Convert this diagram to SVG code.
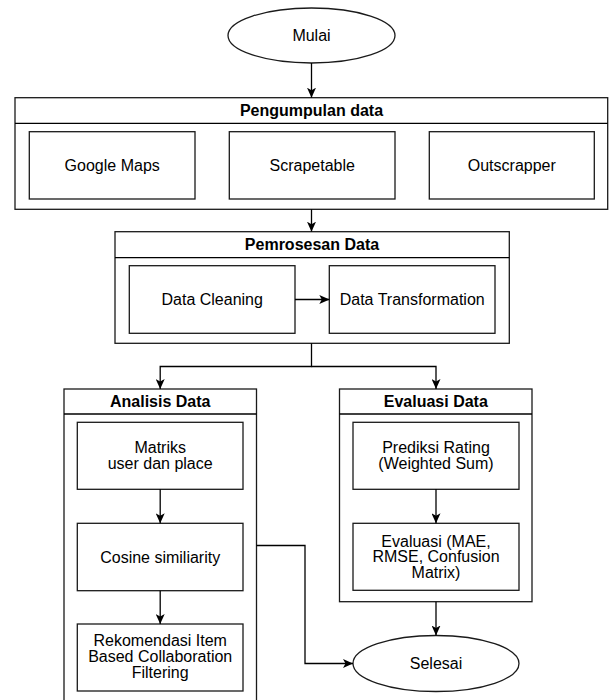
<svg xmlns="http://www.w3.org/2000/svg" width="612" height="700" viewBox="0 0 612 700">
<style>
  .box { fill: #ffffff; stroke: #1a1a1a; stroke-width: 1.3; }
  .ln { fill: none; stroke: #000000; stroke-width: 1.3; }
  .t { font-family: "Liberation Sans", Arial, Helvetica, sans-serif; font-size: 16px; fill: #000000; text-anchor: middle; }
  .h { font-family: "Liberation Sans", Arial, Helvetica, sans-serif; font-size: 16px; font-weight: bold; fill: #000000; text-anchor: middle; }
</style>
<defs>
  <marker id="arr" markerUnits="userSpaceOnUse" markerWidth="10" markerHeight="9" refX="10" refY="4.5" orient="auto">
    <path d="M0,0 L10,4.5 L0,9 L2.5,4.5 z" fill="#000000"/>
  </marker>
</defs>
<rect x="0" y="0" width="612" height="700" fill="#ffffff"/>

<g id="mulai">
  <ellipse class="box" cx="311.5" cy="35.5" rx="83.5" ry="27.5"/>
  <text class="t" x="311.5" y="41">Mulai</text>
</g>

<g id="pengumpulan">
  <rect class="box" x="15" y="97.7" width="592.7" height="111.6"/>
  <line class="ln" x1="15" y1="123.3" x2="607.7" y2="123.3"/>
  <text class="h" x="311.5" y="116">Pengumpulan data</text>
</g>
<g id="google-maps">
  <rect class="box" x="29.3" y="131.7" width="165.7" height="67.3"/>
  <text class="t" x="112.2" y="171">Google Maps</text>
</g>
<g id="scrapetable">
  <rect class="box" x="229.3" y="131.7" width="165.7" height="67.3"/>
  <text class="t" x="312.2" y="171">Scrapetable</text>
</g>
<g id="outscrapper">
  <rect class="box" x="429.3" y="131.7" width="165" height="67.3"/>
  <text class="t" x="511.8" y="171">Outscrapper</text>
</g>

<g id="pemrosesan">
  <rect class="box" x="115" y="231.7" width="394.3" height="111.6"/>
  <line class="ln" x1="115" y1="257.7" x2="509.3" y2="257.7"/>
  <text class="h" x="312" y="250">Pemrosesan Data</text>
</g>
<g id="data-cleaning">
  <rect class="box" x="129.3" y="265.7" width="165.7" height="67.6"/>
  <text class="t" x="212.2" y="305">Data Cleaning</text>
</g>
<g id="data-transformation">
  <rect class="box" x="329.3" y="265.7" width="165.7" height="67.6"/>
  <text class="t" x="412.2" y="305">Data Transformation</text>
</g>

<g id="analisis">
  <rect class="box" x="64" y="389" width="192.5" height="330"/>
  <line class="ln" x1="64" y1="414" x2="256.5" y2="414"/>
  <text class="h" x="160.2" y="407">Analisis Data</text>
</g>
<g id="matriks">
  <rect class="box" x="77.3" y="422.3" width="165.7" height="67"/>
  <text class="t" x="160.2" y="452.5">Matriks</text>
  <text class="t" x="160.2" y="469">user dan place</text>
</g>
<g id="cosine">
  <rect class="box" x="77.3" y="523.3" width="165.7" height="67.4"/>
  <text class="t" x="160.2" y="562.5">Cosine similiarity</text>
</g>
<g id="rekomendasi">
  <rect class="box" x="77.3" y="624" width="165.7" height="67"/>
  <text class="t" x="160.2" y="645.5">Rekomendasi Item</text>
  <text class="t" x="160.2" y="661.5">Based Collaboration</text>
  <text class="t" x="160.2" y="677.5">Filtering</text>
</g>

<g id="evaluasi">
  <rect class="box" x="339.5" y="389" width="192.5" height="212.7"/>
  <line class="ln" x1="339.5" y1="414" x2="532" y2="414"/>
  <text class="h" x="435.8" y="407">Evaluasi Data</text>
</g>
<g id="prediksi">
  <rect class="box" x="353" y="422.3" width="166" height="67"/>
  <text class="t" x="436" y="452.5">Prediksi Rating</text>
  <text class="t" x="436" y="469">(Weighted Sum)</text>
</g>
<g id="evaluasi-mae">
  <rect class="box" x="353" y="523.3" width="166" height="67"/>
  <text class="t" x="436" y="546.5">Evaluasi (MAE,</text>
  <text class="t" x="436" y="562">RMSE, Confusion</text>
  <text class="t" x="436" y="577.5">Matrix)</text>
</g>

<g id="selesai">
  <ellipse class="box" cx="436" cy="663.5" rx="83" ry="28"/>
  <text class="t" x="436" y="669">Selesai</text>
</g>

<g id="connectors">
  <line class="ln" x1="311.5" y1="63" x2="311.5" y2="97.7" marker-end="url(#arr)"/>
  <line class="ln" x1="311.5" y1="209.3" x2="311.5" y2="231.7" marker-end="url(#arr)"/>
  <line class="ln" x1="295" y1="299.5" x2="329.3" y2="299.5" marker-end="url(#arr)"/>
  <polyline class="ln" points="311.5,343.3 311.5,366.5 160.2,366.5 160.2,389" marker-end="url(#arr)"/>
  <polyline class="ln" points="311.5,366.5 436,366.5 436,389" marker-end="url(#arr)"/>
  <line class="ln" x1="160.2" y1="489.3" x2="160.2" y2="523.3" marker-end="url(#arr)"/>
  <line class="ln" x1="160.2" y1="590.7" x2="160.2" y2="624" marker-end="url(#arr)"/>
  <line class="ln" x1="436" y1="489.3" x2="436" y2="523.3" marker-end="url(#arr)"/>
  <line class="ln" x1="436" y1="601.7" x2="436" y2="635.5" marker-end="url(#arr)"/>
  <polyline class="ln" points="256.5,545.5 305,545.5 305,663.5 353,663.5" marker-end="url(#arr)"/>
</g>
</svg>
